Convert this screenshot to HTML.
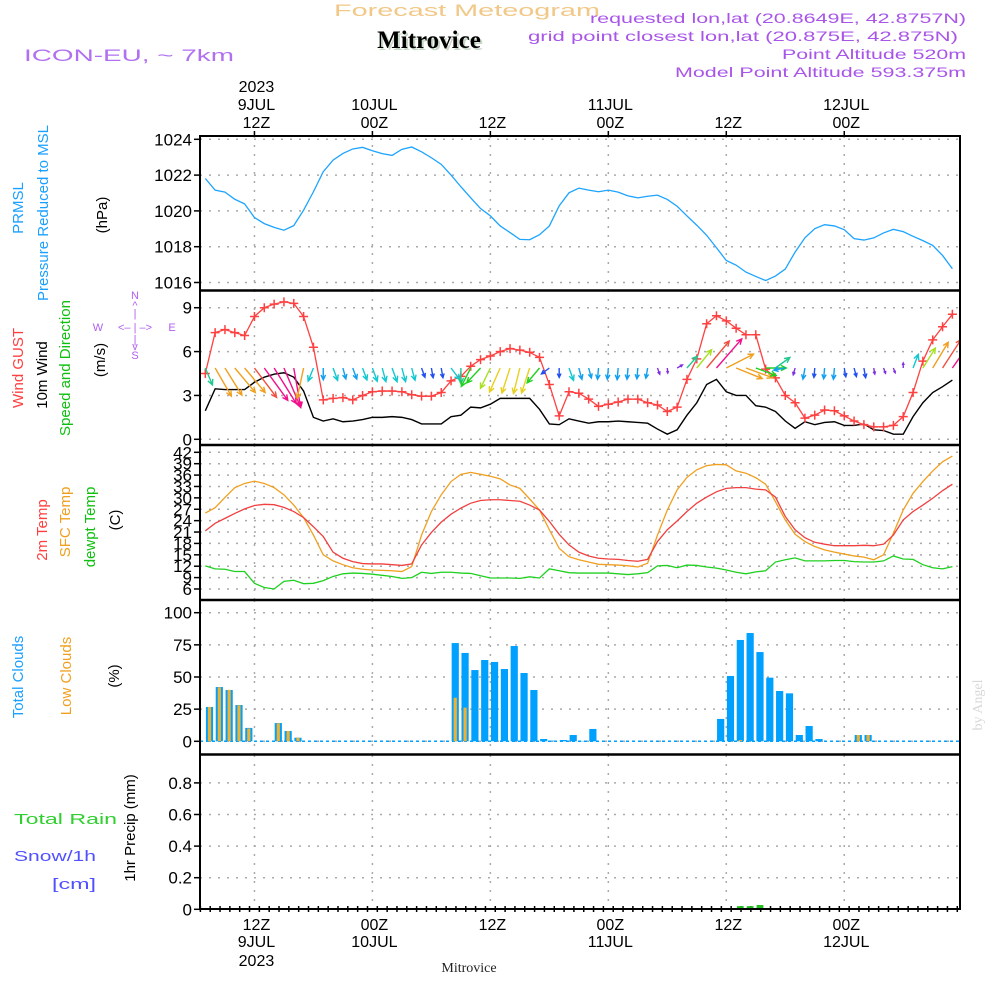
<!DOCTYPE html>
<html><head><meta charset="utf-8"><style>
html,body{margin:0;padding:0;background:#fff;width:1000px;height:1000px;overflow:hidden}
svg{display:block}
text{font-family:"Liberation Sans",sans-serif}
</style></head><body>
<svg id="chart" width="1000" height="1000" viewBox="0 0 1000 1000" xmlns="http://www.w3.org/2000/svg">
<defs><clipPath id="pc"><rect x="200" y="136" width="760" height="773"/></clipPath></defs>
<text x="334" y="16" font-size="17" fill="#f2c888" textLength="266" lengthAdjust="spacingAndGlyphs">Forecast Meteogram</text>
<text x="429" y="48" font-size="25" font-weight="bold" text-anchor="middle" fill="#c8d8c8" style="font-family:'Liberation Serif',serif" transform="translate(2,2)">Mitrovice</text>
<text x="429" y="48" font-size="25" font-weight="bold" text-anchor="middle" fill="#000" style="font-family:'Liberation Serif',serif">Mitrovice</text>
<text x="966" y="23" font-size="14" text-anchor="end" fill="#a855e8" textLength="376" lengthAdjust="spacingAndGlyphs">requested lon,lat (20.8649E, 42.8757N)</text>
<text x="958" y="41" font-size="14" text-anchor="end" fill="#a855e8" textLength="430" lengthAdjust="spacingAndGlyphs">grid point closest lon,lat (20.875E, 42.875N)</text>
<text x="966" y="59" font-size="14" text-anchor="end" fill="#a855e8" textLength="184" lengthAdjust="spacingAndGlyphs">Point Altitude 520m</text>
<text x="966" y="77" font-size="14" text-anchor="end" fill="#a855e8" textLength="291" lengthAdjust="spacingAndGlyphs">Model Point Altitude 593.375m</text>
<text x="24" y="61" font-size="17" fill="#b070f0" textLength="210" lengthAdjust="spacingAndGlyphs">ICON-EU, ~ 7km</text>

<g font-size="15">
<text transform="translate(23,208) rotate(-90)" text-anchor="middle" fill="#1aa0ff">PRMSL</text>
<text transform="translate(48,213) rotate(-90)" text-anchor="middle" fill="#1aa0ff">Pressure Reduced to MSL</text>
<text transform="translate(107,215) rotate(-90)" text-anchor="middle" fill="#000">(hPa)</text>
<text transform="translate(23,368) rotate(-90)" text-anchor="middle" fill="#ff4040">Wind GUST</text>
<text transform="translate(47,375) rotate(-90)" text-anchor="middle" fill="#000">10m Wind</text>
<text transform="translate(70,368) rotate(-90)" text-anchor="middle" fill="#10c010">Speed and Direction</text>
<text transform="translate(105,360) rotate(-90)" text-anchor="middle" fill="#000">(m/s)</text>
<text transform="translate(47,530) rotate(-90)" text-anchor="middle" fill="#ff4040">2m Temp</text>
<text transform="translate(70,522) rotate(-90)" text-anchor="middle" fill="#f0a020">SFC Temp</text>
<text transform="translate(95,527) rotate(-90)" text-anchor="middle" fill="#10c010">dewpt Temp</text>
<text transform="translate(120,520) rotate(-90)" text-anchor="middle" fill="#000">(C)</text>
<text transform="translate(23,677) rotate(-90)" text-anchor="middle" fill="#1aa0ff">Total Clouds</text>
<text transform="translate(71,676) rotate(-90)" text-anchor="middle" fill="#f0a020">Low Clouds</text>
<text transform="translate(119,676) rotate(-90)" text-anchor="middle" fill="#000">(%)</text>
<text transform="translate(135,828) rotate(-90)" text-anchor="middle" fill="#000">1hr Precip (mm)</text>
<text x="14" y="824" fill="#30d030" textLength="103" lengthAdjust="spacingAndGlyphs">Total   Rain</text>
<text x="14" y="861" fill="#5050ff" textLength="82" lengthAdjust="spacingAndGlyphs">Snow/1h</text>
<text x="52" y="889" fill="#5050ff" textLength="44" lengthAdjust="spacingAndGlyphs">[cm]</text>
</g>
<g font-size="11" fill="#b060f0" text-anchor="middle">
<text x="135" y="299">N</text><text x="135" y="309">^</text><text x="135" y="317">|</text>
<text x="98" y="331">W</text><text x="135" y="331">&lt;– | –&gt;</text><text x="172" y="331">E</text>
<text x="135" y="343">|</text><text x="135" y="350">v</text><text x="135" y="359">S</text>
</g>
<text transform="translate(982,705) rotate(-90)" text-anchor="middle" font-size="14" fill="#d8d8d8" style="font-family:'Liberation Serif',serif">by Angel</text>
<text x="469" y="972" font-size="14" text-anchor="middle" style="font-family:'Liberation Serif',serif" fill="#222">Mitrovice</text>
<g id="axes"></g>
<g id="plot" clip-path="url(#pc)"></g>
<g id="frameg"></g>
</svg>
<script>
const pressure=[1021.81,1021.16,1021.05,1020.65,1020.39,1019.63,1019.29,1019.08,1018.92,1019.18,1020.04,1021.07,1022.19,1022.84,1023.21,1023.46,1023.55,1023.36,1023.2,1023.1,1023.44,1023.57,1023.3,1022.97,1022.6,1022.0,1021.35,1020.73,1020.13,1019.72,1019.16,1018.79,1018.41,1018.39,1018.67,1019.16,1020.28,1021.01,1021.27,1021.16,1021.07,1021.16,1021.05,1020.84,1020.73,1020.82,1020.88,1020.64,1020.26,1019.72,1019.2,1018.64,1017.94,1017.23,1016.97,1016.58,1016.34,1016.11,1016.36,1016.75,1017.7,1018.5,1019.01,1019.23,1019.16,1018.95,1018.45,1018.37,1018.49,1018.77,1018.97,1018.84,1018.58,1018.34,1018.07,1017.51,1016.77];
const gust=[4.5,7.3,7.5,7.3,7.1,8.4,9.0,9.25,9.4,9.3,8.4,6.3,2.7,2.8,2.85,2.7,3.0,3.25,3.3,3.3,3.25,3.05,2.95,2.95,3.2,4.0,4.3,5.0,5.45,5.7,6.0,6.2,6.1,5.95,5.6,3.75,1.6,3.25,3.15,2.75,2.25,2.4,2.55,2.75,2.75,2.5,2.35,1.9,2.2,4.1,5.5,7.9,8.45,8.1,7.6,7.15,7.15,4.8,4.2,3.0,2.5,1.45,1.65,2.0,1.95,1.6,1.25,1.0,0.85,0.85,0.95,1.55,3.2,5.35,6.8,7.7,8.55];
const windSpeed=[1.95,3.45,3.4,3.4,3.4,3.9,4.25,4.45,4.55,4.25,3.3,1.5,1.25,1.4,1.2,1.25,1.35,1.5,1.5,1.55,1.5,1.35,1.05,1.05,1.05,1.55,1.65,2.2,2.15,2.4,2.8,2.8,2.8,2.8,2.05,1.05,1.0,1.4,1.25,1.1,1.2,1.2,1.25,1.2,1.15,1.1,0.7,0.35,0.65,1.65,2.5,3.75,4.1,3.25,3.0,3.0,2.3,2.2,1.9,1.25,0.75,1.2,1.0,1.15,1.2,0.95,0.95,1.05,0.65,0.6,0.35,0.35,1.55,2.5,3.2,3.6,4.05];
const windDir=[337,330,328,320,320,323,324,328,337,350,12,22,0,340,345,340,340,340,345,340,345,345,340,350,350,323,0,27,43,26,24,18,14,18,40,53,0,340,345,345,5,5,5,5,5,10,340,355,240,221,219,220,221,243,292,290,290,270,234,80,15,10,5,5,5,350,345,350,350,340,340,180,201,212,211,213,215];
const temp2m=[21.3,23.3,24.6,25.9,27.1,28.0,28.3,28.2,27.5,26.4,24.8,22.4,19.8,15.7,14.1,13.2,12.7,12.6,12.6,12.4,12.2,12.6,17.6,20.9,23.6,25.7,27.3,28.6,29.3,29.5,29.5,29.3,29.1,28.1,26.8,23.8,20.4,17.6,15.7,14.7,14.1,13.9,13.8,13.5,13.3,13.8,18.5,21.6,23.9,26.4,28.6,30.2,31.6,32.5,32.7,32.7,32.3,32.1,30.2,25.1,21.6,19.5,18.3,17.8,17.4,17.4,17.4,17.5,17.4,17.8,20.2,24.2,26.4,28.1,29.9,31.9,33.6];
const tempSfc=[26.0,27.4,30.1,32.7,33.8,34.4,33.8,32.7,30.8,28.1,24.8,20.2,15.0,13.4,12.4,11.6,11.2,11.0,10.9,10.8,10.6,11.9,20.2,26.4,30.8,34.3,36.2,36.7,36.2,35.7,35.0,33.4,32.5,29.7,26.8,21.6,16.7,14.5,13.7,13.1,12.5,12.4,12.3,12.1,11.8,12.8,20.2,26.8,32.1,35.4,37.4,38.5,38.8,38.7,37.1,36.5,35.3,33.6,29.0,24.2,20.4,18.5,17.2,16.3,15.7,15.2,14.7,14.4,13.7,15.0,20.7,26.8,31.2,34.3,37.1,39.5,41.0];
const dewpt=[12.1,11.3,11.2,10.6,10.6,7.5,6.4,6.0,8.0,8.3,7.4,7.5,8.2,9.3,10.0,10.2,10.1,9.9,9.6,9.3,8.8,9.0,10.4,10.1,10.4,10.4,10.2,10.1,9.5,8.9,8.9,8.9,8.8,9.2,8.9,11.3,10.8,10.3,10.2,10.2,10.2,10.2,10.0,9.8,10.0,10.3,12.1,12.2,11.6,12.3,12.2,11.8,11.5,11.0,10.4,10.0,10.5,10.8,13.1,13.7,14.2,13.4,13.4,13.4,13.5,13.5,13.2,13.1,13.1,13.4,14.7,13.9,13.8,12.4,11.6,11.3,11.9];
const totalClouds=[26.7,42.2,39.9,28.2,10.4,0,0,14.2,8.0,2.8,0,0,0,0,0,0,0,0,0,0,0,0,0,0,0,76.4,68.7,55.4,63.2,61.7,56.2,74.1,53.1,39.9,1.8,0.5,1.0,4.9,0.3,9.6,0,0,0,0,0,0,0,0,0,0,0,0,17.4,50.8,78.8,84.2,69.4,49.5,39.1,37.3,4.9,11.9,1.8,0,0,0,4.9,4.9,0,0,0,0,0,0,0,0,0];
const lowClouds=[26.7,42,40,28,10,0,0,14,8,2.8,0,0,0,0,0,0,0,0,0,0,0,0,0,0,0,33.9,26.2,0,0,0,0,0,0,0,0,0,0,0,0,0,0,0,0,0,0,0,0,0,0,0,0,0,0,0,1,0,0,0,0,0,0,0,0,0,0,0,4.9,4.9,0,0,0,0,0,0,0,0,0];
const rain=[0,0,0,0,0,0,0,0,0,0,0,0,0,0,0,0,0,0,0,0,0,0,0,0,0,0,0,0,0,0,0,0,0,0,0,0,0,0,0,0,0,0,0,0,0,0,0,0,0,0,0,0,0,0,0.02,0.02,0.027,0,0,0,0,0,0,0,0,0,0,0,0,0,0,0,0,0,0,0,0];
const pressureTicks=[1016,1018,1020,1022,1024];
const windTicks=[0,3,6,9];
const tempTicks=[6,9,12,15,18,21,24,27,30,33,36,39,42];
const cloudTicks=[0,25,50,75,100];
const precipTicks=[0,0.2,0.4,0.6,0.8];
const timeHours=[5,17,29,41,53,65];
const timeZ=["12Z","00Z","12Z","00Z","12Z","00Z"];
const timeDay=["9JUL","10JUL","","11JUL","","12JUL"];
const timeYear=["2023","","","","",""];

const NS="http://www.w3.org/2000/svg";
const plot=document.getElementById('plot');
const axes=document.getElementById('axes');
const frameg=document.getElementById('frameg');
function mk(tag,attrs,parent){const e=document.createElementNS(NS,tag);for(const k in attrs)e.setAttribute(k,attrs[k]);(parent||plot).appendChild(e);return e;}
const X=i=>205.3+9.83*i;
const yP=p=>139.3+(1024-p)*17.9;
const yW=v=>439.3-v*14.62;
const yT=t=>452.3+(42-t)*3.797;
const yC=c=>741.3-c*1.286;
const yR=r=>909.3-r*158;
const L=200,R=960;
const dots="2 7";

function hgrid(ticks,fy,name,fmt){
  ticks.forEach(t=>{
    const y=fy(t);
    const g=mk('line',{x1:L,x2:R,y1:y,y2:y,stroke:'#aaa','stroke-width':1.5,'stroke-dasharray':dots},axes);
    
    
    const tk=mk('line',{x1:L-6,x2:L,y1:y,y2:y,stroke:'#000','stroke-width':1.5},axes);
    
    
    const tx=mk('text',{x:L-8,y:y+6,'font-size':17,'text-anchor':'end',fill:'#000'},axes);
    
    
    tx.textContent=fmt?fmt(t):t;
  });
}
hgrid(pressureTicks,yP,'pressure-y');
hgrid(windTicks,yW,'wind-y');
hgrid(tempTicks,yT,'temp-y');
hgrid(cloudTicks,yC,'cloud-y');
hgrid(precipTicks,yR,'precip-y',t=>t===0?'0':t.toFixed(1));

timeHours.forEach((h,k)=>{
  const x=X(h);
  [[136,290],[290,445],[445,600],[600,755],[755,909]].forEach(([a,b])=>{
    const v=mk('line',{x1:x,x2:x,y1:a,y2:b,stroke:'#aaa','stroke-width':1.5,'stroke-dasharray':dots},axes);
    
    
  });
  const t1=mk('line',{x1:x,x2:x,y1:131,y2:136,stroke:'#000','stroke-width':1.5},axes);
  
  
  const lz=mk('text',{x:x+2,y:128,'font-size':16,'text-anchor':'middle',fill:'#000'},axes);
  
  
  lz.textContent=timeZ[k];
  if(timeDay[k]){const d=mk('text',{x:x+2,y:110,'font-size':16,'text-anchor':'middle',fill:'#000'},axes);
    
    
    d.textContent=timeDay[k];}
  if(timeYear[k]){const d=mk('text',{x:x+2,y:92,'font-size':16,'text-anchor':'middle',fill:'#000'},axes);
    
    
    d.textContent=timeYear[k];}
  const bz=mk('text',{x:x+2,y:930,'font-size':16,'text-anchor':'middle',fill:'#000'},axes);
  
  
  bz.textContent=timeZ[k];
  if(timeDay[k]){const d=mk('text',{x:x+2,y:947,'font-size':16,'text-anchor':'middle',fill:'#000'},axes);
    
    
    d.textContent=timeDay[k];}
  if(timeYear[k]){const d=mk('text',{x:x+2,y:966,'font-size':16,'text-anchor':'middle',fill:'#000'},axes);
    
    
    d.textContent=timeYear[k];}
});
for(let i=-1;i<78;i++){
  const x=X(i)+4.9;if(x<L||x>R)continue;
  const t=mk('line',{x1:x,x2:x,y1:906,y2:912,stroke:'#000','stroke-width':1.5},axes);
  
  
}

function poly(arr,fy,color,name,w){
  const p=mk('polyline',{points:arr.map((v,i)=>X(i)+','+fy(v)).join(' '),fill:'none',stroke:color,'stroke-width':w||1.3});
  
  
  return p;
}
poly(pressure,yP,'#1ca4ff','pressure-line');
poly(windSpeed,yW,'#000','wind-speed-line',1.4);
poly(gust,yW,'#ff4040','gust-line');
gust.forEach((v,i)=>{
  const x=X(i),y=yW(v);
  const m=mk('path',{d:`M${x-4.5},${y}H${x+4.5}M${x},${y-4.5}V${y+4.5}`,stroke:'#ff4040','stroke-width':1.5});
  
  
});
function windColor(s){
  if(s<0.8)return '#8030e0';if(s<1.1)return '#2050f0';if(s<1.35)return '#10a0f0';if(s<1.6)return '#10c8d0';
  if(s<2.0)return '#20c890';if(s<2.4)return '#20d020';if(s<2.6)return '#a8e020';if(s<3.0)return '#e8d020';
  if(s<3.6)return '#f0a020';if(s<4.0)return '#f05040';return '#f0108a';
}
windSpeed.forEach((s,i)=>{
  const b=(windDir[i]+180)*Math.PI/180;
  const len=Math.max(s*9.4,5);
  const x0=X(i),y0=368;
  const x1=x0+Math.sin(b)*len,y1=y0-Math.cos(b)*len;
  const hl=Math.min(6,len*0.45),a=0.45;
  const hx1=x1-Math.sin(b-a)*hl,hy1=y1+Math.cos(b-a)*hl;
  const hx2=x1-Math.sin(b+a)*hl,hy2=y1+Math.cos(b+a)*hl;
  const ar=mk('path',{d:`M${x0},${y0}L${x1},${y1}M${hx1},${hy1}L${x1},${y1}L${hx2},${hy2}`,fill:'none',stroke:windColor(s),'stroke-width':1.4});
  
  
});
poly(tempSfc,yT,'#f0a020','sfc-temp-line');
poly(temp2m,yT,'#f04040','temp-2m-line');
poly(dewpt,yT,'#20d020','dewpt-line');

const base=mk('line',{x1:L,x2:R,y1:741.3,y2:741.3,stroke:'#00a0ff','stroke-width':1.5,'stroke-dasharray':'3 3'});


totalClouds.forEach((c,i)=>{
  const cx=X(i)+4.2;
  if(c>0){const r=mk('rect',{x:cx-3.6,y:yC(c),width:7.2,height:741.3-yC(c),fill:'#00a0ff'});
    
    }
  const lc=lowClouds[i];
  if(lc>0){const r=mk('rect',{x:cx-1.6,y:yC(lc),width:3.2,height:741.3-yC(lc),fill:'#f0b030'});
    
    }
});
rain.forEach((v,i)=>{
  if(v<=0)return;
  const cx=X(i)+4.2;
  const r=mk('rect',{x:cx-3.4,y:yR(v),width:6.8,height:909.3-yR(v),fill:'#20c020'});
  
  
});

const frame=mk('rect',{x:L,y:136,width:R-L,height:773,fill:'none',stroke:'#000','stroke-width':2},frameg);


[290.5,445,600,754.5].forEach(y=>{
  const s=mk('line',{x1:L,x2:R,y1:y,y2:y,stroke:'#000','stroke-width':2.5},frameg);
  
  
});
</script>
</body></html>
